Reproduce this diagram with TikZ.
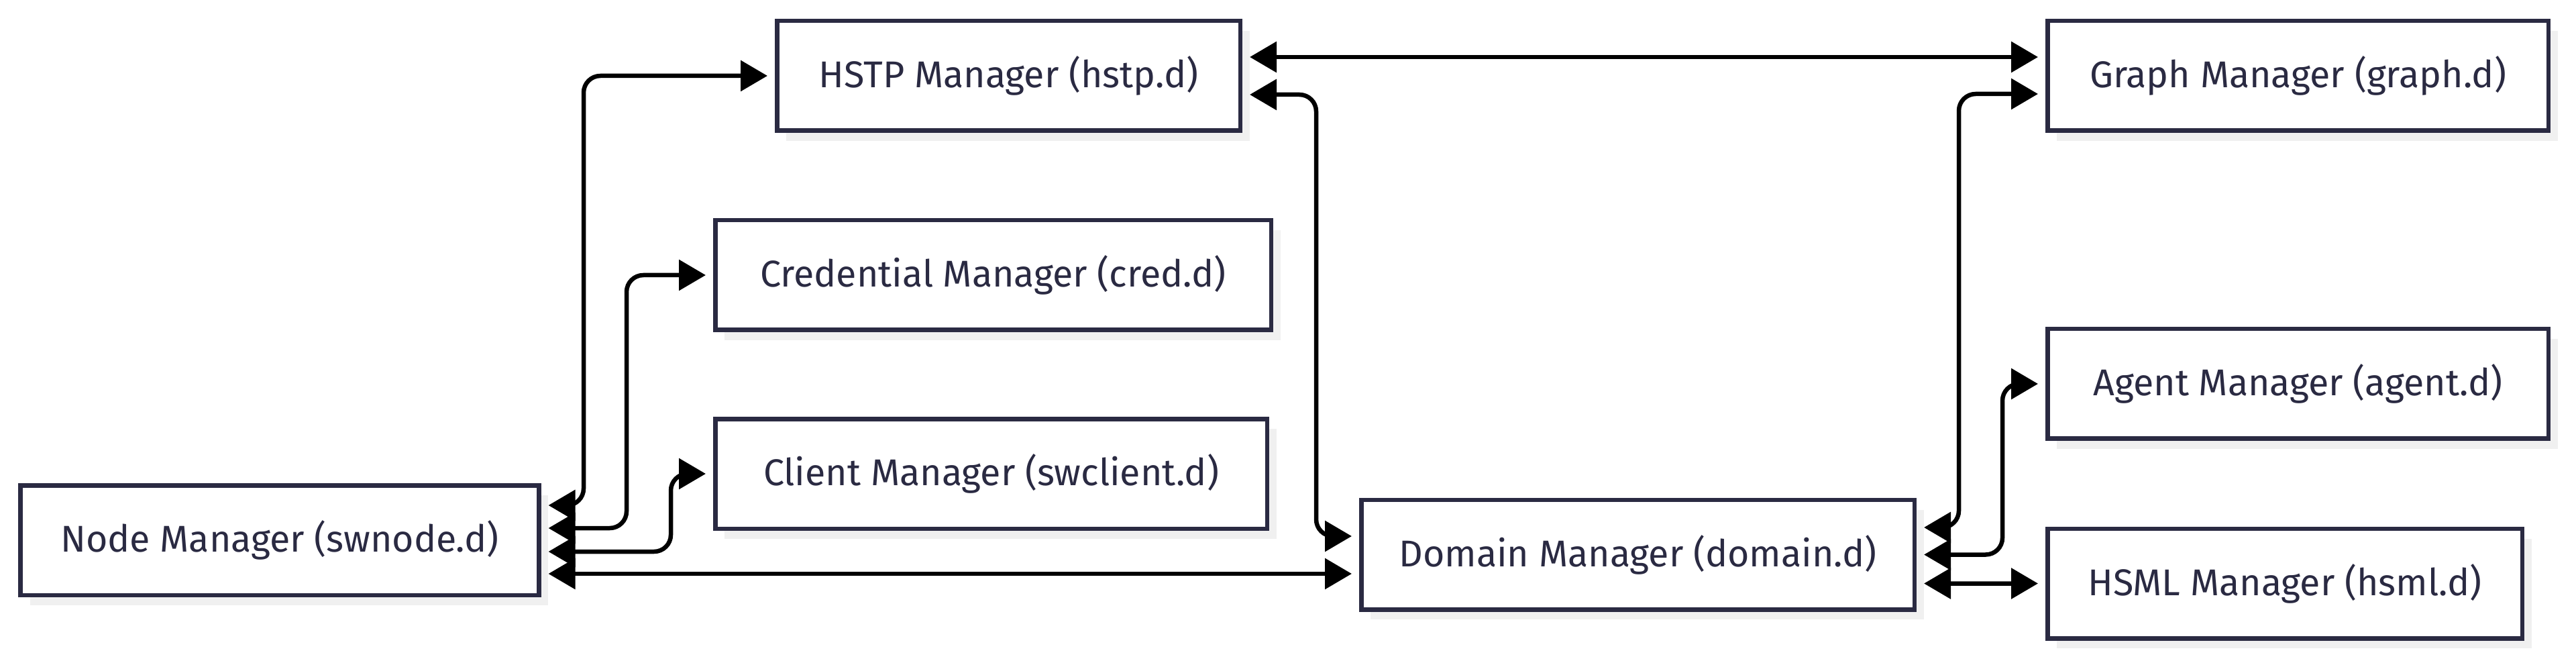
\documentclass[tikz,border=0pt]{standalone}
\usepackage{fontspec}
\setmainfont{Fira Sans}
\usetikzlibrary{arrows.meta,shadows}
\definecolor{mgrline}{RGB}{42,42,66}
\definecolor{mgrshadow}{RGB}{240,240,240}

\begin{document}
\begin{tikzpicture}[
        manager/.style={draw=mgrline, line width=0.065cm, fill=white, text=mgrline, minimum height=1.635cm, inner xsep=0pt, font=\fontsize{15.8}{18}\selectfont, drop shadow={shadow xshift=0.14cm, shadow yshift=-0.15cm, fill=mgrshadow, opacity=1}},
        bidir/.style={{Triangle[length=0.4cm,width=0.45cm]}-{Triangle[length=0.4cm,width=0.45cm]}, line width=0.065cm, rounded corners=0.25cm, shorten >=0.11cm, shorten <=0.11cm}
    ]
        \useasboundingbox (0,0) rectangle (38.4,-9.85);

        \node[manager, minimum width=6.905cm] (hstp) at (15.035,-1.13) {HSTP Manager (hstp.d)};
        \node[manager, minimum width=8.285cm, anchor=west] (cred) at ([xshift=-0.92cm, yshift=-2.97cm]hstp.west) {Credential Manager (cred.d)};
        \node[manager, minimum width=8.225cm, anchor=west] (client) at ([yshift=-2.96cm]cred.west) {Client Manager (swclient.d)};

        \node[manager, minimum width=7.725cm, anchor=east] (swnode) at ([xshift=-2.565cm, yshift=-0.99cm]client.west) {Node Manager (swnode.d)};

        \node[manager, minimum width=8.245cm, anchor=west] (domain) at ([xshift=1.34cm, yshift=-1.205cm]client.east) {Domain Manager (domain.d)};

        \node[manager, minimum width=7.465cm, anchor=west] (graph) at ([xshift=11.97cm]hstp.east) {Graph Manager (graph.d)};
        \node[manager, minimum width=7.465cm, anchor=west] (agent) at ([yshift=-4.59cm]graph.west) {Agent Manager (agent.d)};
        \node[manager, minimum width=7.075cm, anchor=west] (hsml) at ([yshift=-2.975cm]agent.west) {HSML Manager (hsml.d)};

        % node manager links
        \draw [bidir] ([yshift=0.52cm]swnode.east) -- ++(0.635,0) |- (hstp.west);
        \draw [bidir] ([yshift=0.18cm]swnode.east) -- ++(1.275,0) |- (cred.west);
        \draw [bidir] ([yshift=-0.17cm]swnode.east) -- ++(1.935,0) |- (client.west);
        \draw [bidir] ([yshift=-0.5cm]swnode.east) -- ([yshift=-0.285cm]domain.west);

        % hstp manager links
        \draw [bidir] ([yshift=0.28cm]hstp.east) -- ([yshift=0.28cm]graph.west);
        \draw [bidir] ([yshift=-0.28cm]hstp.east) -- ++(1.1,0) |- ([yshift=0.275cm]domain.west);

        % domain manager links
        \draw [bidir] ([yshift=0.405cm]domain.east) -- ++(0.63,0) |- ([yshift=-0.27cm]graph.west);
        \draw [bidir] (domain.east) -- ++(1.28,0) |- (agent.west);
        \draw [bidir] ([yshift=-0.43cm]domain.east) -- (hsml.west);

    \end{tikzpicture}
\end{document}
